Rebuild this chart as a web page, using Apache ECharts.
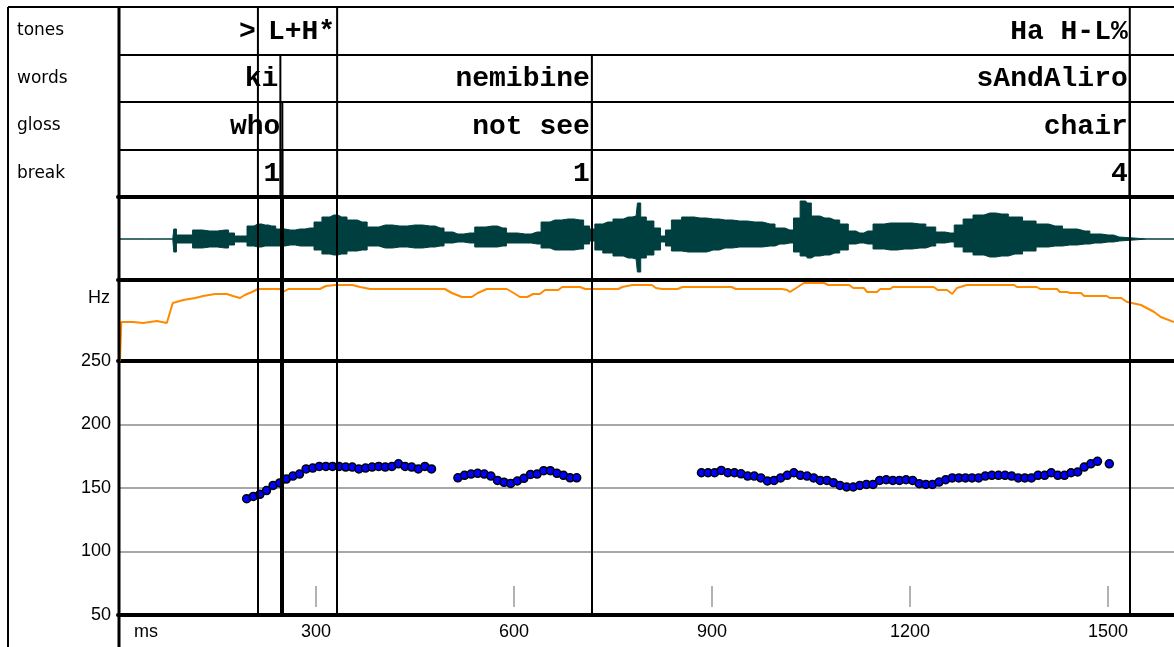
<!DOCTYPE html>
<html><head><meta charset="utf-8">
<script src="https://cdn.jsdelivr.net/npm/echarts@6/dist/echarts.min.js"></script>
<style>html,body{margin:0;padding:0;background:#fff}#c{width:1174px;height:647px}</style>
</head><body><div id="c"></div>
<script>
// ---------- data ----------
const tierNames = ['tones', 'words', 'gloss', 'break'];
const toneLabels = ['>', 'L+H*', 'Ha H-L%'];
const toneEnds = [212, 332, 1533];
const wordLabels = ['ki', 'nemibine', 'sAndAliro'];
const wordEnds = [246, 718, 1533];
const glossLabels = ['who', 'not see', 'chair'];
const glossEnds = [249, 718, 1533];
const breakLabels = ['1', '1', '4'];
const breakEnds = [249, 718, 1533];

const xTickValues = [300, 600, 900, 1200, 1500];

// waveform envelope (ms, upper / lower amplitude)
const waveMs = [0,83,86,91,109,117,139,162,173,180,191,200,212,223,233,245,261,276,291,303,315,327,339,355,370,385,405,427,450,473,488,500,515,533,548,567,583,594,617,635,647,662,682,700,711,718,727,742,758,773,785,789,795,806,818,826,833,844,864,882,902,920,942,965,988,1003,1018,1029,1038,1045,1056,1071,1086,1101,1112,1124,1136,1152,1170,1192,1215,1233,1245,1261,1273,1288,1303,1321,1339,1359,1382,1400,1420,1442,1465,1480,1500,1517,1520,1600];
const waveUpper = [0,0,10,4,4,9,8,9,6,3,3,13,15,14,13,10,9,10,11,17,22,24,22,19,17,12,14,13,14,13,11,7,5,6,12,13,11,6,5,7,17,19,20,19,13,10,15,17,20,22,23,36,22,18,11,3,9,19,22,21,20,19,18,17,15,11,9,21,38,36,23,21,19,15,8,6,8,15,16,16,15,12,7,6,14,20,24,26,25,22,18,15,13,10,8,5,4,2,0,0];
const waveLower = [0,0,-13,-4,-4,-9,-8,-9,-6,-3,-3,-7,-8,-7,-7,-7,-6,-7,-7,-11,-15,-16,-15,-12,-11,-7,-9,-8,-9,-8,-7,-4,-3,-4,-8,-8,-7,-4,-4,-5,-9,-11,-11,-10,-5,-2,-11,-14,-17,-19,-20,-33,-19,-16,-11,-3,-7,-12,-13,-13,-11,-9,-8,-8,-7,-5,-4,-13,-17,-19,-17,-16,-14,-11,-5,-4,-5,-10,-11,-10,-9,-7,-4,-3,-8,-13,-16,-18,-17,-15,-12,-8,-7,-6,-5,-4,-3,-2,0,0];

// orange contour (ms, value)
const contourMs = [3,5,23,38,59,74,83,99,117,129,147,165,174,185,192,203,212,245,250,258,306,315,329,355,367,382,495,506,521,536,545,559,589,597,609,620,629,639,647,667,673,700,708,758,764,779,809,815,824,848,855,930,936,1006,1014,1018,1030,1039,1070,1076,1108,1114,1130,1135,1150,1155,1170,1174,1236,1242,1256,1264,1271,1286,1358,1362,1392,1397,1423,1427,1438,1442,1459,1464,1498,1503,1520,1529,1550,1570,1580,1600];
const contourVal = [0,39,39,38,40,38,58,61,63,65,67,67,65,63,66,69,72,72,69,72,72,75,76,76,74,72,72,68,64,64,68,72,72,69,64,64,67,67,71,71,74,74,72,72,74,76,76,73,72,72,74,74,72,72,71,69,74,78,78,76,76,73,73,69,69,72,72,74,74,71,71,67,73,76,76,74,74,72,72,69,69,68,68,65,65,63,63,59,56,49,44,39];

// F0 (Hz), one value per 10 ms frame, per voiced segment
const FRAME_MS = 10;
const f0SegStart = [195, 515, 884, 1502];
const f0Seg1 = [141.6,143.4,145,148,152,154,157,159.4,161,165,165.7,167,167,167,167,166.5,166.5,165,165.7,166.5,167,166.5,167,169,167,166.5,165,167,165];
const f0Seg2 = [158,160,161,161.6,161,159.4,156,154.5,153.6,155.5,157.6,160.7,161,163.6,163.6,161.6,160,158,158];
const f0Seg3 = [162,162,162,163.8,162,162,161.2,159.4,159.4,157.9,155.5,156,157.9,160,162,160,159.4,157.9,156,156,154.2,152,150.8,150.8,152,152.8,152.8,156,156.5,156,156,156.5,156,153.4,152.8,152.8,154.7,156.5,157.9,157.9,157.9,157.9,157.9,159.4,160,160,160,159.4,157.9,157.9,157.9,160,160,162,160,160,162,162.6,166.5,169,171];
const f0Seg4 = [169];

// ---------- build ----------
const tiers = [[toneLabels, toneEnds], [wordLabels, wordEnds], [glossLabels, glossEnds], [breakLabels, breakEnds]];
const tierItems = [];
tiers.forEach(([labels, ends], ti) => labels.forEach((lab, j) => tierItems.push([ends[j], ti, lab])));
const boundaries = Array.from(new Set([].concat(toneEnds, wordEnds, glossEnds, breakEnds))).sort((a, b) => a - b);

const f0Data = [];
[f0Seg1, f0Seg2, f0Seg3, f0Seg4].forEach((seg, s) => seg.forEach((hz, i) => f0Data.push([f0SegStart[s] + i * FRAME_MS, hz])));

const TEAL = '#003f3f', ORANGE = '#ff8a00';
const LABEL_FONT = 'Liberation Sans';
const markLine = {
  silent: true, symbol: ['none', 'none'], label: { show: false },
  lineStyle: { color: '#000', width: 2, type: 'solid' },
  emphasis: { disabled: true },
  data: boundaries.map(t => ({ xAxis: t }))
};

const gridTops = [7, 197, 280, 361];
const gridHeights = [190, 83, 81, 254];
const grids = gridTops.map((t, i) => ({ left: 118, right: 0, top: t, height: gridHeights[i], outerBoundsMode: 'none', containLabel: false }));

const xAxes = gridTops.map((t, i) => ({
  type: 'value', gridIndex: i, min: 0, max: 1600, position: 'bottom',
  axisLine: { show: true, onZero: false, lineStyle: { color: '#000', width: 4 } },
  axisTick: { show: false },
  axisLabel: i === 3 ? { show: true, customValues: xTickValues, formatter: v => String(v), color: '#000', fontFamily: LABEL_FONT, fontSize: 18, margin: 8 } : { show: false },
  splitLine: { show: false }
}));
xAxes.push({
  type: 'value', gridIndex: 3, min: 0, max: 1600, position: 'bottom', offset: -8,
  axisLine: { show: false, onZero: false },
  axisTick: { show: true, inside: true, length: 21, customValues: xTickValues, lineStyle: { color: '#999', width: 1.5 } },
  axisLabel: { show: false }, splitLine: { show: false }
});

const yAxes = [
  { type: 'category', gridIndex: 0, data: tierNames, inverse: true,
    axisLine: { show: false }, axisTick: { show: false },
    axisLabel: { align: 'left', margin: 101, color: '#000', fontFamily: 'DejaVu Sans', fontSize: 17 },
    splitLine: { show: true, lineStyle: { color: '#000', width: 2 } } },
  { type: 'value', gridIndex: 1, min: -41, max: 42, show: false },
  { type: 'value', gridIndex: 2, min: 0, max: 81, show: false },
  { type: 'value', gridIndex: 3, min: 50, max: 250, interval: 50,
    axisLine: { show: false }, axisTick: { show: false },
    axisLabel: { color: '#000', fontFamily: LABEL_FONT, fontSize: 18, margin: 7 },
    splitLine: { show: true, lineStyle: { color: '#a8a8a8', width: 2 } } }
];

const chart = echarts.init(document.getElementById('c'), null, { renderer: 'canvas' });
chart.setOption({
  animation: false,
  backgroundColor: '#fff',
  grid: grids, xAxis: xAxes, yAxis: yAxes,
  series: [
    { type: 'custom', xAxisIndex: 0, yAxisIndex: 0, silent: true, clip: false,
      encode: { x: 0, y: 1 },
      data: tierItems.map(d => [d[0], d[1]]),
      renderItem: (params, api) => {
        const item = tierItems[params.dataIndex];
        const p = api.coord([item[0], item[1]]);
        const h = api.size([0, 1])[1];
        const bottom = api.coord([item[0], tierNames.length - 1])[1] + h / 2;
        return { type: 'group', children: [
          { type: 'line', shape: { x1: p[0], y1: p[1] - h / 2, x2: p[0], y2: bottom }, style: { stroke: '#000', lineWidth: 2 } },
          { type: 'text', x: p[0] - 2, y: p[1] + 1, z2: 10,
            style: { text: item[2], font: 'bold 28px "Liberation Mono"', fill: '#000', align: 'right', verticalAlign: 'middle' } }
        ] };
      } },
    { type: 'line', xAxisIndex: 1, yAxisIndex: 1, showSymbol: false, silent: true, step: 'middle',
      data: waveMs.map((t, i) => [t, waveUpper[i]]),
      lineStyle: { color: TEAL, width: 1 }, areaStyle: { color: TEAL, opacity: 1 }, markLine: markLine },
    { type: 'line', xAxisIndex: 1, yAxisIndex: 1, showSymbol: false, silent: true, step: 'middle',
      data: waveMs.map((t, i) => [t, waveLower[i]]),
      lineStyle: { color: TEAL, width: 1 }, areaStyle: { color: TEAL, opacity: 1 } },
    { type: 'line', xAxisIndex: 2, yAxisIndex: 2, showSymbol: false, silent: true,
      data: contourMs.map((t, i) => [t, contourVal[i]]),
      lineStyle: { color: ORANGE, width: 2 }, markLine: markLine },
    { type: 'scatter', xAxisIndex: 3, yAxisIndex: 3, silent: true,
      data: f0Data, symbolSize: 8,
      itemStyle: { color: '#0000ff', borderColor: '#000', borderWidth: 1.5, opacity: 1 },
      markLine: markLine }
  ],
  graphic: [
    { type: 'line', shape: { x1: 8, y1: 7, x2: 8, y2: 647 }, style: { stroke: '#000', lineWidth: 2 }, z: 100 },
    { type: 'line', shape: { x1: 8, y1: 7, x2: 1174, y2: 7 }, style: { stroke: '#000', lineWidth: 2 }, z: 100 },
    { type: 'line', shape: { x1: 119, y1: 7, x2: 119, y2: 647 }, style: { stroke: '#000', lineWidth: 3 }, z: 100 },
    { type: 'text', x: 110, y: 298, style: { text: 'Hz', font: '18px "Liberation Sans"', fill: '#000', align: 'right', verticalAlign: 'middle' } },
    { type: 'text', x: 134, y: 632, style: { text: 'ms', font: '18px "Liberation Sans"', fill: '#000', align: 'left', verticalAlign: 'middle' } }
  ]
});
</script>
</body></html>
